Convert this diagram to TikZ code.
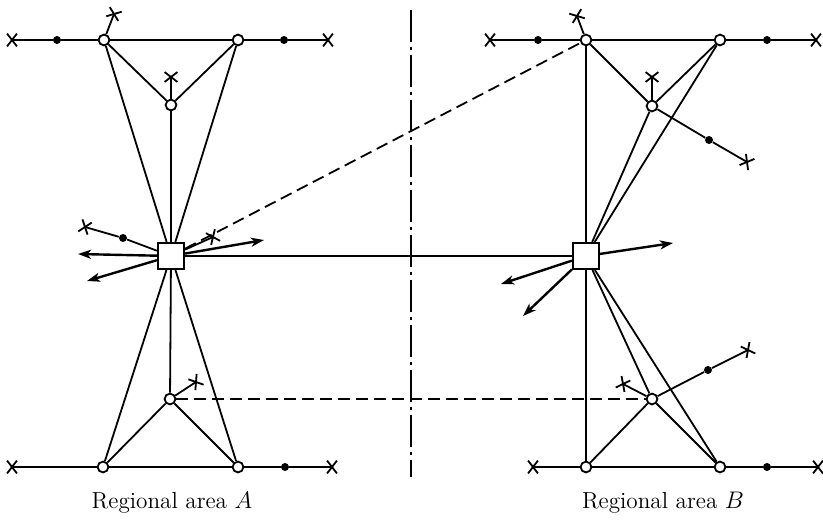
\documentclass[tikz,border=0pt]{standalone}
\usepackage{tikz}
\usetikzlibrary{shapes.misc, arrows.meta, positioning}

\tikzset{
  junction/.style={circle, draw, fill=white, inner sep=0pt, minimum size=5.4pt, line width=0.9pt},
  relay/.style={circle, fill=black, inner sep=0pt, minimum size=4pt},
  endmark/.style={cross out, draw, inner sep=0pt, minimum width=4pt, minimum height=5.5pt, line width=0.9pt},
  hub/.style={rectangle, draw, fill=white, inner sep=0pt, minimum size=13pt, line width=1.1pt},
  link/.style={line width=0.9pt},
  outflow/.style={line width=1.2pt, -{Stealth[length=6.5pt, width=4.5pt, inset=1.8pt]}},
  tie/.style={line width=0.9pt, dash pattern=on 6pt off 3pt},
  boundary/.style={line width=0.9pt, dash pattern=on 16pt off 2.5pt on 1.5pt off 2.5pt},
  arealabel/.style={font=\fontsize{11.6}{14}\selectfont}
}

\begin{document}
\begin{tikzpicture}[x=0.5pt, y=-0.5pt]
  \useasboundingbox (0,0) rectangle (823,519);

  % Regional area A
  \node[endmark] (xA1) at (12,40) {};
  \node[relay] (dA1) at (57,40) {};
  \node[junction] (jA1) at (104,40) {};
  \node[junction] (jA2) at (238,40) {};
  \node[relay] (dA2) at (284,40) {};
  \node[endmark] (xA2) at (328,40) {};
  \node[endmark, rotate=69] (xA3) at (114,14) {};
  \node[junction] (jA3) at (171,105) {};
  \node[endmark, rotate=90] (xA4) at (171,77) {};
  \node[hub] (sA) at (171,256) {};
  \node[relay] (dA3) at (123,238) {};
  \node[endmark, rotate=161] (xA5) at (85,227) {};
  \node[endmark, rotate=24] (xA6) at (213,237) {};
  \coordinate (aA1) at (78,254);
  \coordinate (aA2) at (87,281);
  \coordinate (aA3) at (264,240);
  \node[junction] (jA4) at (170,399) {};
  \node[endmark, rotate=33] (xA7) at (196,382) {};
  \node[endmark] (xA8) at (12,467) {};
  \node[junction] (jA5) at (103,467) {};
  \node[junction] (jA6) at (238,467) {};
  \node[relay] (dA4) at (285,467) {};
  \node[endmark] (xA9) at (332,467) {};

  % Regional area B
  \node[endmark] (xB1) at (490,40) {};
  \node[relay] (dB1) at (538,40) {};
  \node[junction] (jB1) at (586,40) {};
  \node[junction] (jB2) at (720,40) {};
  \node[relay] (dB2) at (767,40) {};
  \node[endmark] (xB2) at (816,40) {};
  \node[endmark, rotate=111] (xB3) at (577,16) {};
  \node[junction] (jB3) at (652,106) {};
  \node[endmark, rotate=90] (xB4) at (652,77) {};
  \node[relay] (dB3) at (709,140) {};
  \node[endmark, rotate=-30] (xB5) at (747,162) {};
  \node[hub] (sB) at (586,256) {};
  \coordinate (aB1) at (673,243);
  \coordinate (aB2) at (501,284);
  \coordinate (aB3) at (523,316);
  \node[junction] (jB4) at (652,399) {};
  \node[endmark, rotate=153] (xB6) at (623,384) {};
  \node[relay] (dB4) at (708,370) {};
  \node[endmark, rotate=27] (xB7) at (748,350) {};
  \node[endmark] (xB8) at (533,467) {};
  \node[junction] (jB5) at (586,467) {};
  \node[junction] (jB6) at (720,467) {};
  \node[relay] (dB5) at (767,467) {};
  \node[endmark] (xB9) at (818,467) {};

  % lines ending in a cross
  \foreach \a/\b in {dA1/xA1, dA2/xA2, jA1/xA3, jA3/xA4, dA3/xA5, sA/xA6, jA4/xA7,
      jA5/xA8, dA4/xA9, dB1/xB1, dB2/xB2, jB1/xB3, jB3/xB4, dB3/xB5, jB4/xB6,
      dB4/xB7, jB5/xB8, dB5/xB9}
    \draw[link] (\a) -- (\b.center);

  % lines between stations
  \foreach \a/\b in {dA1/jA1, jA1/jA2, jA2/dA2, jA1/jA3, jA2/jA3, jA1/sA, jA2/sA, jA3/sA,
      sA/dA3, sA/jA4, sA/jA5, sA/jA6, jA4/jA5, jA4/jA6, jA5/jA6, jA6/dA4,
      dB1/jB1, jB1/jB2, jB2/dB2, jB1/jB3, jB2/jB3, jB3/dB3, jB1/sB, jB2/sB, jB3/sB,
      sB/jB5, sB/jB4, sB/jB6, jB4/jB5, jB4/jB6, jB4/dB4, jB5/jB6, jB6/dB5, sA/sB}
    \draw[link] (\a) -- (\b);

  % flows leaving the areas
  \draw[outflow] (sA) -- (aA1);
  \draw[outflow] (sA) -- (aA2);
  \draw[outflow] (sA) -- (aA3);
  \draw[outflow] (sB) -- (aB1);
  \draw[outflow] (sB) -- (aB2);
  \draw[outflow] (sB) -- (aB3);

  % ties across the boundary
  \draw[tie] (sA) -- (jB1);
  \draw[tie] (jA4) -- (jB4);
  \coordinate (bTop) at (411,10);
  \coordinate (bBot) at (411,477);
  \draw[boundary] (bTop) -- (bBot);

  % Labels
  \node[arealabel] (labA) at (172,503) {Regional area $A$};
  \node[arealabel] (labB) at (663,503) {Regional area $B$};
\end{tikzpicture}
\end{document}
